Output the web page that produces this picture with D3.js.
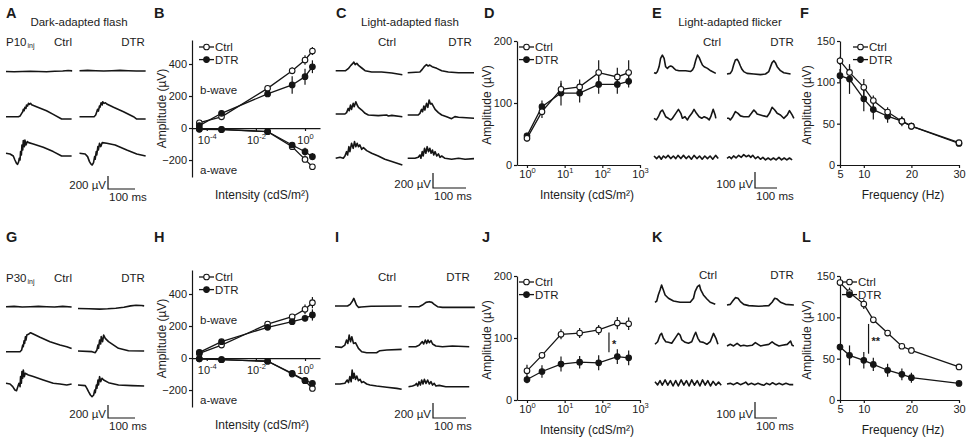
<!DOCTYPE html>
<html><head><meta charset="utf-8">
<script src="https://cdn.jsdelivr.net/npm/d3@7"></script>
<style>
body{margin:0;background:#fff;}
svg text{font-family:"Liberation Sans",Arial,Helvetica,sans-serif;fill:#1c1c1c;}
</style></head><body>
<script>
// ---------------- DATA ----------------
// Dark-adapted intensity series (B, H)
const darkIntensity = [0.00005, 0.0004, 0.03, 0.3, 1, 2];
const p10DarkCtrlB = [33, 70, 248, 358, 425, 481];
const p10DarkCtrlBErr = [5, 8, 12, 22, 30, 25];
const p10DarkDtrB = [15, 92, 213, 269, 321, 383];
const p10DarkDtrBErr = [5, 8, 12, 55, 50, 40];
const p10DarkCtrlA = [-8, -10, -23, -117, -196, -242];
const p10DarkCtrlAErr = [2, 3, 5, 12, 15, 12];
const p10DarkDtrA = [-5, -8, -22, -106, -148, -179];
const p10DarkDtrAErr = [2, 3, 5, 15, 25, 22];
const p30DarkCtrlB = [29, 81, 212, 258, 304, 346];
const p30DarkCtrlBErr = [5, 8, 15, 15, 30, 35];
const p30DarkDtrB = [35, 102, 192, 227, 248, 269];
const p30DarkDtrBErr = [5, 8, 10, 20, 15, 35];
const p30DarkCtrlA = [-5, -10, -20, -100, -142, -190];
const p30DarkCtrlAErr = [2, 3, 5, 10, 10, 10];
const p30DarkDtrA = [-5, -10, -20, -95, -140, -158];
const p30DarkDtrAErr = [2, 3, 5, 10, 10, 12];
// Light-adapted intensity series (D, J)
const lightIntensity = [1, 2.5, 8, 25, 80, 250, 500];
const p10LightCtrl = [43, 86, 122, 126, 149, 142, 149];
const p10LightCtrlErr = [5, 10, 10, 12, 20, 15, 20];
const p10LightDtr = [47, 94, 116, 116, 130, 130, 135];
const p10LightDtrErr = [5, 10, 20, 15, 15, 15, 10];
const p30LightCtrl = [47, 72, 106, 108, 113, 124, 123];
const p30LightCtrlErr = [10, 5, 8, 8, 8, 10, 10];
const p30LightDtr = [33, 46, 58, 61, 60, 70, 68];
const p30LightDtrErr = [6, 10, 12, 10, 12, 12, 12];
// Flicker series (F, L)
const flickerFreq = [5, 7, 10, 12, 15, 18, 20, 30];
const p10FlickCtrl = [126, 112, 94, 78, 64, 53, 47, 27];
const p10FlickCtrlErr = [5, 8, 10, 6, 6, 5, 3, 2];
const p10FlickDtr = [108, 104, 80, 67, 59, 53, 47, 26];
const p10FlickDtrErr = [8, 18, 15, 12, 8, 6, 4, 2];
const p30FlickCtrl = [142, 130, 116, 97, 81, 65, 60, 40];
const p30FlickCtrlErr = [3, 6, 6, 3, 3, 3, 2, 2];
const p30FlickDtr = [64, 54, 48, 43, 36, 31, 27, 20];
const p30FlickDtrErr = [4, 12, 10, 8, 8, 7, 6, 2];
// significance markers: [x, yLow, yHigh, label]
const sigJ = [150, 77, 109, "*"];
const sigL = [11, 56, 92, "**"];
// Tick values
const darkAmpTicks = [-200, 0, 200, 400];
const darkIntTicks = [1e-4, 1e-2, 1];
const lightAmpTicks = [0, 100, 200];
const lightIntTicks = [1, 10, 100, 1000];
const flickAmpTicks = [0, 50, 100, 150];
const flickFreqTicks = [5, 10, 20, 30];

// ERG traces: [ms, µV] pairs, rows = increasing stimulus
const traceACtrl = [
 [[0,0],[30,-5],[60,0],[90,5],[120,0],[150,-5],[180,5],[210,8],[230,15],[245,10]],
 [[0,0],[46,0],[52,10],[58,51],[62,77],[64,113],[67,92],[70,144],[74,128],[76,180],[80,164],[83,205],[86,190],[91,205],[95,185],[113,154],[150,92],[175,36],[206,-36],[243,-36]],
 [[0,0],[15,-10],[27,-41],[33,-103],[39,-154],[43,-169],[47,-128],[49,-77],[52,-103],[54,26],[57,-26],[59,128],[62,51],[64,195],[68,103],[70,205],[74,128],[79,180],[84,164],[101,144],[138,92],[175,26],[206,-41],[243,-41]]];
const traceADtr = [
 [[0,0],[30,5],[60,0],[90,-5],[120,0],[150,5],[180,0],[210,-5],[245,-5]],
 [[0,0],[54,0],[60,26],[64,77],[67,113],[70,87],[74,164],[76,144],[80,215],[84,180],[86,231],[91,205],[96,215],[101,195],[126,144],[163,77],[200,0],[212,-36],[245,-36]],
 [[0,0],[21,-10],[30,-51],[37,-128],[42,-164],[47,-180],[52,-144],[56,-51],[58,-92],[62,26],[64,-26],[68,103],[70,51],[74,154],[79,103],[84,164],[101,154],[132,128],[175,51],[212,-10],[245,-41]]];
const traceGCtrl = [
 [[0,0],[30,5],[60,-5],[90,0],[120,5],[150,0],[180,-5],[210,5],[243,-5]],
 [[0,0],[52,0],[58,26],[62,103],[64,77],[67,169],[69,128],[72,231],[74,180],[77,256],[83,267],[91,292],[101,272],[126,221],[163,154],[200,103],[225,77],[243,51]],
 [[0,0],[15,-10],[25,-51],[33,-103],[39,-113],[44,-51],[48,0],[52,-51],[54,103],[57,0],[59,180],[62,77],[64,205],[68,103],[71,154],[83,128],[101,103],[138,51],[175,0],[200,-10],[225,-26],[243,-10]]];
const traceGDtr = [
 [[0,0],[40,-5],[80,-10],[110,-5],[140,5],[170,20],[195,40],[215,50],[235,45],[245,40]],
 [[0,0],[52,-10],[64,-26],[70,15],[74,92],[76,41],[80,169],[84,108],[86,221],[91,144],[95,246],[101,195],[113,144],[150,41],[187,5],[245,0]],
 [[0,0],[27,-10],[33,-51],[39,-103],[46,-154],[52,-180],[58,-154],[62,-77],[64,-118],[68,0],[70,-51],[74,77],[76,0],[80,128],[84,51],[89,103],[95,77],[113,36],[150,0],[200,-10],[245,-15]]];
const traceCCtrl = [
 [[0,0],[30,0],[38,27],[46,71],[52,98],[55,115],[59,80],[64,98],[69,71],[79,36],[89,0],[109,-18],[139,-18],[170,-31],[202,-53]],
 [[0,0],[28,0],[33,18],[38,75],[41,44],[45,120],[48,62],[53,142],[56,98],[61,164],[65,120],[69,89],[79,53],[89,9],[99,-13],[129,-22],[154,-13],[160,-27],[170,-18],[202,-36]],
 [[0,0],[13,13],[23,0],[28,31],[33,89],[36,44],[40,155],[43,89],[48,200],[53,133],[57,222],[61,155],[65,200],[69,155],[73,178],[79,120],[84,142],[94,102],[109,67],[129,31],[149,-13],[170,-44],[202,-89]]];
const traceCDtr = [
 [[0,0],[37,9],[44,44],[50,80],[57,107],[62,89],[67,102],[74,80],[88,58],[103,27],[123,9],[154,0],[201,0]],
 [[0,0],[32,0],[37,22],[42,75],[45,44],[49,120],[52,67],[57,155],[61,102],[65,200],[69,147],[73,155],[83,75],[93,31],[103,0],[118,-22],[133,-49],[143,-22],[154,-31],[201,-44]],
 [[0,0],[22,0],[32,13],[37,44],[40,0],[44,89],[47,31],[51,133],[55,67],[59,155],[63,89],[67,133],[71,67],[75,111],[79,44],[83,89],[88,31],[93,58],[98,13],[103,31],[113,0],[133,-13],[154,0],[174,-13],[201,-4]]];
const traceICtrl = [
 [[0,0],[38,0],[46,22],[53,67],[57,102],[61,58],[65,13],[71,-18],[79,-13],[109,-4],[202,0]],
 [[0,0],[20,-9],[30,22],[35,89],[39,44],[43,155],[47,67],[51,133],[56,44],[62,53],[71,-22],[81,-67],[96,-80],[126,-80],[136,-53],[157,-44],[202,-36]],
 [[0,0],[15,0],[30,9],[37,53],[41,18],[45,98],[49,31],[52,186],[55,75],[58,142],[62,62],[66,107],[71,44],[76,62],[81,18],[86,31],[96,0],[106,-13],[126,-27],[157,-44],[187,-58],[202,-71]]];
const traceIDtr = [
 [[0,0],[32,0],[42,22],[53,58],[63,67],[71,58],[78,31],[88,0],[103,-9],[201,-9]],
 [[0,0],[22,0],[32,18],[37,44],[42,67],[46,36],[51,89],[55,44],[59,89],[63,53],[68,80],[73,36],[83,9],[103,0],[133,9],[184,0]],
 [[0,0],[12,9],[20,22],[24,44],[28,9],[32,67],[36,22],[40,89],[44,36],[48,98],[53,44],[58,89],[63,36],[68,67],[73,22],[78,44],[83,9],[93,18],[113,0],[153,0],[184,0]]];
const traceECtrl = [
 [[0,0],[8,-4],[15,6],[23,37],[30,89],[38,110],[46,89],[53,37],[61,27],[68,37],[76,42],[84,37],[91,27],[99,17],[114,12],[144,12],[167,8],[175,17],[182,37],[190,79],[198,110],[205,96],[213,69],[220,48],[228,37],[243,27],[258,12],[281,-4]],
 [[0,0],[11,-10],[20,10],[30,42],[38,52],[46,31],[53,10],[65,0],[76,-10],[84,0],[99,31],[111,56],[122,31],[129,0],[141,10],[152,-10],[160,10],[172,31],[182,56],[193,31],[205,10],[217,0],[228,10],[243,0],[251,-10],[258,10],[269,56],[278,21],[281,0]],
 [[0,8],[12,-8],[23,8],[33,-12],[43,8],[53,-4],[64,12],[76,-8],[88,8],[99,-8],[109,12],[122,-8],[134,12],[146,-8],[158,8],[170,-12],[182,12],[195,-8],[207,8],[219,-12],[231,8],[243,-8],[255,8],[267,-12],[280,12],[292,-8]]];
const traceEDtr = [
 [[0,0],[15,4],[23,21],[30,56],[38,87],[46,92],[53,77],[61,50],[68,29],[76,15],[91,4],[122,0],[152,-4],[175,0],[190,15],[198,46],[205,71],[213,83],[220,71],[228,46],[243,21],[258,8],[289,0]],
 [[0,0],[8,0],[15,-10],[26,10],[38,42],[50,31],[61,15],[76,10],[99,10],[111,31],[122,52],[129,42],[137,27],[152,21],[167,15],[182,10],[193,31],[205,69],[217,52],[228,31],[243,21],[258,0],[274,21],[284,48],[296,21],[304,0]],
 [[0,0],[11,10],[20,-2],[30,15],[41,2],[53,19],[65,6],[76,23],[87,10],[99,19],[108,6],[117,19],[129,-2],[141,10],[152,-6],[163,6],[175,-10],[187,2],[199,-10],[211,2],[223,-10],[236,6],[248,-10],[260,2],[272,-10],[284,2],[296,-10]]];
const traceKCtrl = [
 [[0,0],[8,8],[15,46],[23,77],[30,108],[38,77],[46,46],[61,25],[84,8],[114,0],[160,0],[175,25],[182,67],[193,98],[202,108],[208,77],[220,46],[236,21],[251,0],[274,-12]],
 [[0,-6],[12,10],[23,52],[30,62],[38,31],[49,10],[61,6],[76,0],[91,31],[106,62],[114,52],[122,21],[137,6],[152,0],[167,10],[179,52],[185,69],[195,31],[205,10],[220,6],[236,-6],[251,10],[266,62],[277,31],[286,-6]],
 [[0,10],[12,-10],[23,17],[33,-12],[46,21],[58,-12],[70,17],[82,-17],[94,17],[106,-17],[119,21],[131,-12],[143,17],[155,-17],[167,21],[179,-12],[192,17],[204,-17],[216,21],[228,-12],[240,17],[252,-17],[264,12],[277,-12],[289,8],[301,-12]]];
const traceKDtr = [
 [[0,0],[15,4],[26,25],[38,46],[50,42],[61,21],[76,4],[99,-4],[144,-8],[190,-4],[205,17],[217,42],[228,37],[243,17],[266,4],[304,0]],
 [[0,-4],[15,6],[30,-4],[46,12],[61,-4],[76,0],[91,-4],[114,0],[129,17],[141,6],[152,-4],[167,0],[190,6],[205,21],[220,6],[236,-4],[251,0],[274,6],[289,27],[296,0],[304,-4]],
 [[0,0],[15,4],[30,-4],[46,8],[61,-4],[76,4],[85,12],[96,-4],[111,4],[126,-4],[141,4],[157,-4],[167,-8],[179,4],[195,-4],[207,8],[222,-4],[237,4],[252,-4],[268,4],[286,-4],[301,-4]]];

// ---------------- DRAW ----------------
const FONT = '"Liberation Sans", Arial, Helvetica, sans-serif';
const INK = '#151515';
const svg = d3.select('body').append('svg').attr('width', 974).attr('height', 439)
  .style('font-family', FONT);

function text(x, y, s, size, anchor = 'start', weight = 'normal') {
  return svg.append('text').attr('x', x).attr('y', y).attr('font-size', size)
    .attr('text-anchor', anchor).attr('font-weight', weight).attr('fill', '#1c1c1c').text(s);
}

// panel letters
[['A',6,18],['B',154,18],['C',336,18],['D',484,18],['E',652,18],['F',800,18],
 ['G',6,242],['H',154,242],['I',335,242],['J',482,242],['K',652,242],['L',802,242]]
 .forEach(([l,x,y]) => text(x, y, l, 14.5, 'start', 'bold'));

// ----- traces -----
function drawTraces(rows, x0, bases, pxPerMs, pxPerUv) {
  rows.forEach((row, i) => {
    const x = d3.scaleLinear().domain([0, 100]).range([x0, x0 + 100 * pxPerMs]);
    const y = d3.scaleLinear().domain([0, 100]).range([bases[i], bases[i] - 100 * pxPerUv]);
    svg.append('path').attr('d', d3.line().x(d => x(d[0])).y(d => y(d[1]))(row))
      .attr('fill', 'none').attr('stroke', INK).attr('stroke-width', 1.6)
      .attr('stroke-linejoin', 'round');
  });
}
function scaleBar(bx, by, pxPerMs, pxPerUv, uv) {
  const x = d3.scaleLinear().domain([0, 100]).range([bx, bx + 100 * pxPerMs]);
  const y = d3.scaleLinear().domain([0, 100]).range([by, by - 100 * pxPerUv]);
  svg.append('path').attr('d', `M${x(0)},${y(uv)}V${y(0)}H${x(100)}`)
    .attr('fill', 'none').attr('stroke', INK).attr('stroke-width', 1.2);
  text(bx - 2, by, `${uv} µV`, 11.5, 'end');
  text(bx + 1, by + 11.5, '100 ms', 11.5, 'start');
}
function injLabel(x, y, base) {
  const t = svg.append('text').attr('x', x).attr('y', y).attr('font-size', 11.5).attr('fill', '#1c1c1c');
  t.append('tspan').text(base);
  t.append('tspan').attr('font-size', 7).attr('dy', 2).attr('dx', 1).text('inj');
}

// A
text(79, 26, 'Dark-adapted flash', 11.5, 'middle');
injLabel(6, 46, 'P10');
text(63, 46, 'Ctrl', 11.5, 'middle'); text(133, 46, 'DTR', 11.5, 'middle');
drawTraces(traceACtrl, 6, [71.5, 116.7, 153.3], 0.27, 0.065);
drawTraces(traceADtr, 79.5, [70.7, 116.7, 153.3], 0.27, 0.065);
scaleBar(108, 189, 0.27, 0.065, 200);
// G
injLabel(6, 282, 'P30');
text(63, 282, 'Ctrl', 11.5, 'middle'); text(133, 282, 'DTR', 11.5, 'middle');
drawTraces(traceGCtrl, 6, [306.7, 351.7, 383.3], 0.27, 0.065);
drawTraces(traceGDtr, 78, [308.5, 351, 385], 0.27, 0.065);
scaleBar(108, 418, 0.27, 0.065, 200);
// C
text(410, 26, 'Light-adapted flash', 11.5, 'middle');
text(387, 46, 'Ctrl', 11.5, 'middle'); text(460, 46, 'DTR', 11.5, 'middle');
drawTraces(traceCCtrl, 335.7, [70.7, 114, 158.3], 0.33, 0.075);
drawTraces(traceCDtr, 407.7, [72.7, 115, 158.3], 0.33, 0.075);
scaleBar(433, 188, 0.33, 0.075, 200);
// I
text(387, 281, 'Ctrl', 11.5, 'middle'); text(458, 281, 'DTR', 11.5, 'middle');
drawTraces(traceICtrl, 335, [306, 346.7, 384], 0.33, 0.075);
drawTraces(traceIDtr, 408.5, [306.7, 346.7, 386.7], 0.33, 0.075);
scaleBar(433, 418, 0.33, 0.075, 200);
// E
text(730, 26, 'Light-adapted flicker', 11.5, 'middle');
text(712, 46, 'Ctrl', 11.5, 'middle'); text(782, 46, 'DTR', 11.5, 'middle');
drawTraces(traceECtrl, 654, [72.7, 118.3, 157.3], 0.22, 0.16);
drawTraces(traceEDtr, 727, [74, 118.3, 158.3], 0.22, 0.16);
scaleBar(755, 188, 0.22, 0.16, 100);
// K
text(708, 279, 'Ctrl', 11.5, 'middle'); text(782, 279, 'DTR', 11.5, 'middle');
drawTraces(traceKCtrl, 655, [302.3, 343.3, 383.3], 0.22, 0.16);
drawTraces(traceKDtr, 727, [305, 345.3, 384], 0.22, 0.16);
scaleBar(755, 418, 0.22, 0.16, 100);

// ----- plots -----
function styleAxis(g) {
  g.attr('font-family', FONT).attr('font-size', 11);
  g.select('.domain').attr('stroke', INK).attr('stroke-width', 1.2);
  g.selectAll('.tick line').attr('stroke', INK).attr('stroke-width', 1.2);
  g.selectAll('.tick text').attr('fill', '#1c1c1c');
  return g;
}
function yAxis(y, ticks, x0) {
  styleAxis(svg.append('g').attr('transform', `translate(${x0},0)`)
    .call(d3.axisLeft(y).tickValues(ticks).tickSize(3).tickSizeOuter(0).tickPadding(2)));
}
function xAxisLog(x, ticks, y0, pad) {
  const g = styleAxis(svg.append('g').attr('transform', `translate(0,${y0})`)
    .call(d3.axisBottom(x).tickValues(ticks).tickSize(3).tickSizeOuter(0).tickPadding(pad)));
  g.selectAll('.tick text').each(function (d) {
    const t = d3.select(this); t.text('');
    t.append('tspan').text('10');
    t.append('tspan').attr('font-size', 7.5).attr('dy', -5).text(Math.round(Math.log10(d)));
  });
}
function xAxisLin(x, ticks, y0) {
  styleAxis(svg.append('g').attr('transform', `translate(0,${y0})`)
    .call(d3.axisBottom(x).tickValues(ticks).tickSize(3).tickSizeOuter(0).tickPadding(2)));
}
function series(x, y, xs, vals, errs) {
  svg.append('path').attr('d', d3.line().x(d => x(d[0])).y(d => y(d[1]))(xs.map((d, i) => [d, vals[i]])))
    .attr('fill', 'none').attr('stroke', INK).attr('stroke-width', 1.3);
  xs.forEach((d, i) => svg.append('line').attr('x1', x(d)).attr('x2', x(d))
    .attr('y1', y(vals[i] - errs[i])).attr('y2', y(vals[i] + errs[i]))
    .attr('stroke', INK).attr('stroke-width', 1.2));
}
function markers(x, y, xs, vals, filled) {
  xs.forEach((d, i) => svg.append('circle').attr('cx', x(d)).attr('cy', y(vals[i])).attr('r', 2.8)
    .attr('fill', filled ? INK : '#fff').attr('stroke', INK).attr('stroke-width', 1.1));
}
function legend(x0, yc) {
  [['Ctrl', false, 0], ['DTR', true, 12.6]].forEach(([lab, f, dy]) => {
    svg.append('line').attr('x1', x0).attr('x2', x0 + 15).attr('y1', yc + dy).attr('y2', yc + dy)
      .attr('stroke', INK).attr('stroke-width', 1.3);
    svg.append('circle').attr('cx', x0 + 7.5).attr('cy', yc + dy).attr('r', 2.8)
      .attr('fill', f ? INK : '#fff').attr('stroke', INK).attr('stroke-width', 1.1);
    text(x0 + 16, yc + dy + 4, lab, 11.5);
  });
}
function yTitle(x, y, s) {
  svg.append('text').attr('transform', `translate(${x},${y}) rotate(-90)`).attr('dy', '0.35em')
    .attr('font-size', 12).attr('text-anchor', 'middle').attr('fill', '#1c1c1c').text(s);
}
function sig(x, y, s) {
  svg.append('line').attr('x1', x(s[0])).attr('x2', x(s[0])).attr('y1', y(s[1])).attr('y2', y(s[2]))
    .attr('stroke', INK).attr('stroke-width', 1.2);
  text(x(s[0]) + 3, (y(s[1]) + y(s[2])) / 2 + 6, s[3], 11, 'start', 'bold');
}

// Dark-adapted intensity plots (B, H)
function darkPlot(top, ctrlB, ctrlBE, dtrB, dtrBE, ctrlA, ctrlAE, dtrA, dtrAE) {
  const x = d3.scaleLog().domain([Math.pow(10, -4.6), Math.pow(10, 0.61)]).range([192, 320]);
  const y = d3.scaleLinear().domain([-306, 550]).range([top + 137, top]);
  yAxis(y, darkAmpTicks, 192);
  xAxisLog(x, darkIntTicks, y(0), 5);
  series(x, y, darkIntensity, dtrB, dtrBE); series(x, y, darkIntensity, ctrlB, ctrlBE);
  series(x, y, darkIntensity, dtrA, dtrAE); series(x, y, darkIntensity, ctrlA, ctrlAE);
  markers(x, y, darkIntensity, ctrlB, false); markers(x, y, darkIntensity, dtrB, true);
  markers(x, y, darkIntensity, ctrlA, false); markers(x, y, darkIntensity, dtrA, true);
  text(200, y(240) + 4, 'b-wave', 11.5); text(200, y(-265) + 4, 'a-wave', 11.5);
  legend(199, top + 7);
  yTitle(162, top + 68.5, 'Amplitude (µV)');
  text(262, top + 159, 'Intensity (cdS/m²)', 12, 'middle');
}
darkPlot(40, p10DarkCtrlB, p10DarkCtrlBErr, p10DarkDtrB, p10DarkDtrBErr, p10DarkCtrlA, p10DarkCtrlAErr, p10DarkDtrA, p10DarkDtrAErr);
darkPlot(270, p30DarkCtrlB, p30DarkCtrlBErr, p30DarkDtrB, p30DarkDtrBErr, p30DarkCtrlA, p30DarkCtrlAErr, p30DarkDtrA, p30DarkDtrAErr);

// Light-adapted intensity plots (D, J)
function lightPlot(bottom, ctrl, ctrlE, dtr, dtrE, sigMark) {
  const x = d3.scaleLog().domain([Math.pow(10, -0.265), 1000]).range([517, 640]);
  const y = d3.scaleLinear().domain([0, 200]).range([bottom, bottom - 124]);
  yAxis(y, lightAmpTicks, 517);
  xAxisLog(x, lightIntTicks, bottom, 2);
  series(x, y, lightIntensity, dtr, dtrE); series(x, y, lightIntensity, ctrl, ctrlE);
  markers(x, y, lightIntensity, dtr, true); markers(x, y, lightIntensity, ctrl, false);
  legend(519, bottom - 118);
  yTitle(487, bottom - 60, 'Amplitude (µV)');
  text(587, bottom + 34, 'Intensity (cdS/m²)', 12, 'middle');
  if (sigMark) sig(x, y, sigMark);
}
lightPlot(165, p10LightCtrl, p10LightCtrlErr, p10LightDtr, p10LightDtrErr, null);
lightPlot(400, p30LightCtrl, p30LightCtrlErr, p30LightDtr, p30LightDtrErr, sigJ);

// Flicker plots (F, L)
function flickPlot(bottom, ctrl, ctrlE, dtr, dtrE, sigMark, legX) {
  const x = d3.scaleLinear().domain([5, 30]).range([840, 959]);
  const y = d3.scaleLinear().domain([0, 150]).range([bottom, bottom - 124]);
  yAxis(y, flickAmpTicks, 840);
  xAxisLin(x, flickFreqTicks, bottom);
  series(x, y, flickerFreq, dtr, dtrE); series(x, y, flickerFreq, ctrl, ctrlE);
  markers(x, y, flickerFreq, dtr, true); markers(x, y, flickerFreq, ctrl, false);
  legend(legX, bottom - 118);
  yTitle(807, bottom - 60, 'Amplitude (µV)');
  text(903, bottom + 34, 'Frequency (Hz)', 12, 'middle');
  if (sigMark) sig(x, y, sigMark);
}
flickPlot(165, p10FlickCtrl, p10FlickCtrlErr, p10FlickDtr, p10FlickDtrErr, null, 853);
flickPlot(400, p30FlickCtrl, p30FlickCtrlErr, p30FlickDtr, p30FlickDtrErr, sigL, 842);
</script></body></html>
